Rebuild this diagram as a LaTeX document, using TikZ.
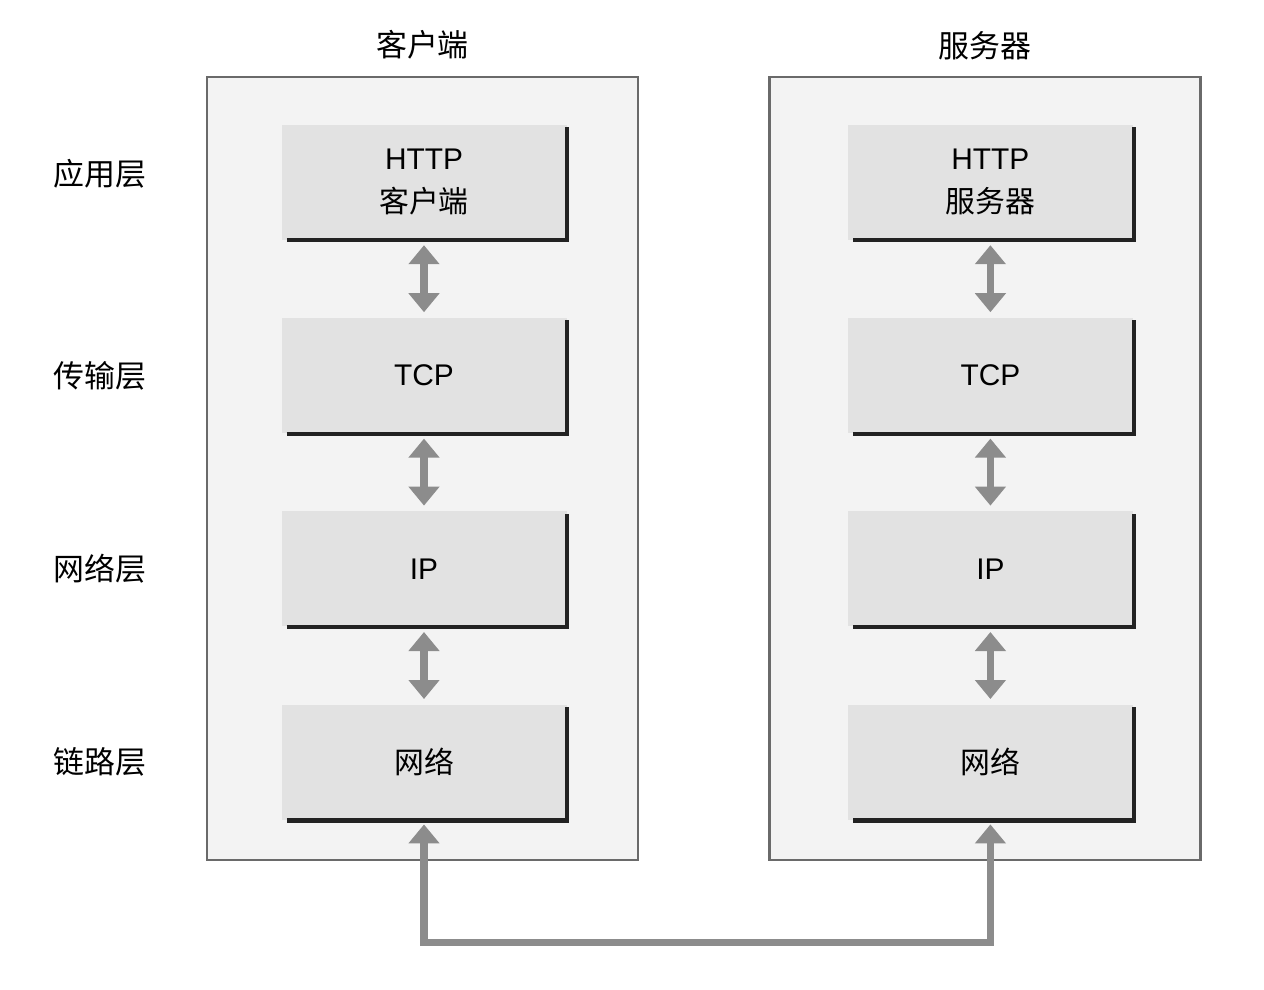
\documentclass[tikz,border=0pt]{standalone}
\usepackage{fontspec}
\setmainfont{Liberation Sans}
\newfontfamily\cjk{Noto Sans CJK SC}
\usepackage{tikz}
\usetikzlibrary{arrows.meta,positioning}
\usepackage{xcolor}
\definecolor{panelgray}{HTML}{F3F3F3}
\definecolor{paneledge}{HTML}{6A6A6A}
\definecolor{layerfill}{HTML}{E2E2E2}
\definecolor{arrowgray}{HTML}{8C8C8C}
\definecolor{edgedark}{HTML}{222222}
\tikzset{
  panel/.style={
    draw=paneledge,
    fill=panelgray,
    line width=0.6pt,
    minimum width=4.31cm,
    minimum height=7.83cm
  },
  layerbox/.style={
    fill=layerfill,
    minimum width=2.85cm,
    minimum height=1.15cm,
    align=center,
    font=\fontsize{8.5}{11}\selectfont
  },
  boxedge/.style={
    draw=edgedark,
    line width=1.2pt
  },
  layerlabel/.style={
    font=\fontsize{8.8}{11}\selectfont\cjk
  },
  sidetitle/.style={
    font=\fontsize{8.8}{11}\selectfont\cjk
  },
  updown/.style={
    {Triangle[length=0.19cm,width=0.3cm]}-{Triangle[length=0.19cm,width=0.3cm]},
    line width=0.075cm,
    draw=arrowgray,
    shorten <=0.05cm,
    shorten >=0.05cm
  }
}

\begin{document}
\begin{tikzpicture}[node distance=0.77cm]
\useasboundingbox (0,0) rectangle (12.64,-9.90);
% the two hosts
\node[panel] (cpanel) at (4.225,-4.685) {};
\node[panel] (spanel) at (9.85,-4.685) {};
\node[sidetitle, above=0.04cm of cpanel] (ctitle) {客户端};
\node[sidetitle, above=0.04cm of spanel] (stitle) {服务器};

% client stack
\node[layerbox] (chttp) at (4.24,-1.82) {HTTP\\[1pt]{\cjk 客户端}};
\node[layerbox, below=of chttp] (ctcp) {TCP};
\node[layerbox, below=of ctcp] (cip) {IP};
\node[layerbox, below=of cip] (clink) {\cjk 网络};

% server stack
\node[layerbox, right=2.8cm of chttp] (shttp) {HTTP\\[1pt]{\cjk 服务器}};
\node[layerbox, below=of shttp] (stcp) {TCP};
\node[layerbox, below=of stcp] (sip) {IP};
\node[layerbox, below=of sip] (slink) {\cjk 网络};

\foreach \b in {chttp,ctcp,cip,clink,shttp,stcp,sip,slink}
  \draw[boxedge] ([xshift=0.06cm]\b.south west) -- (\b.south east) -- ([yshift=-0.03cm]\b.north east);

% layer names
\coordinate (labelx) at (1.0,-0.06);
\node[layerlabel] (lapp) at (labelx |- chttp.north) [yshift=-0.5cm] {应用层};
\node[layerlabel] (ltrans) at (labelx |- ctcp) {传输层};
\node[layerlabel] (lnet) at (labelx |- cip) {网络层};
\node[layerlabel] (llink) at (labelx |- clink) {链路层};

% arrows between layers
\draw[updown] (chttp) -- (ctcp);
\draw[updown] (ctcp) -- (cip);
\draw[updown] (cip) -- (clink);
\draw[updown] (shttp) -- (stcp);
\draw[updown] (stcp) -- (sip);
\draw[updown] (sip) -- (slink);
\draw[updown, shorten <=0.04cm, shorten >=0.04cm] (clink.south) -- ++(0,-1.22) -| (slink.south);
\end{tikzpicture}
\end{document}
